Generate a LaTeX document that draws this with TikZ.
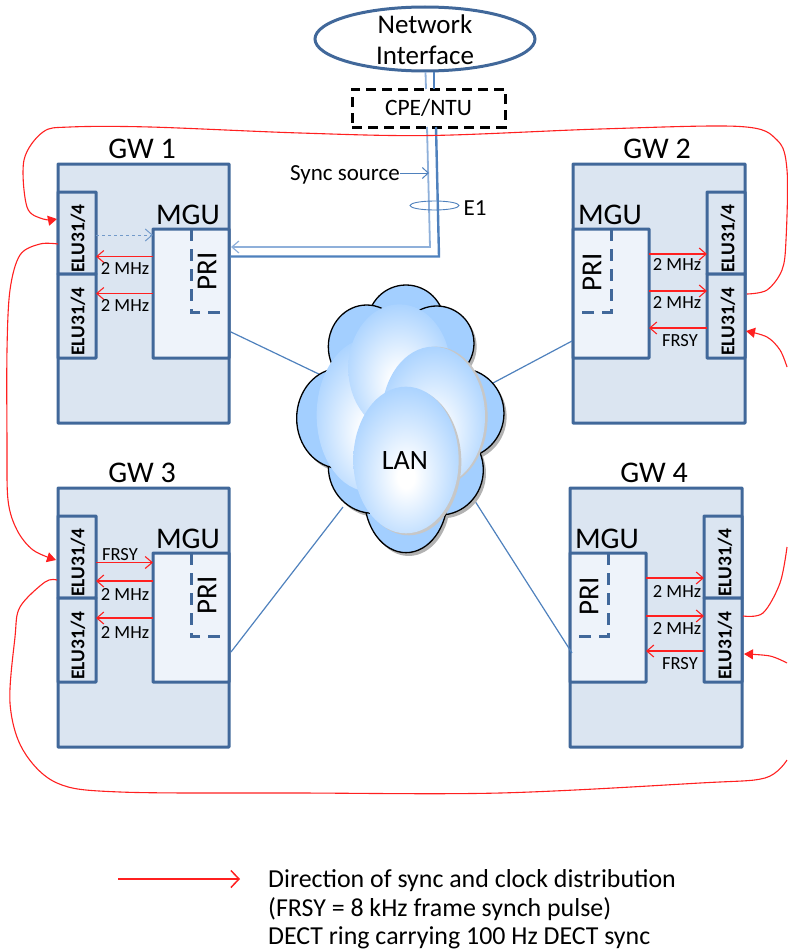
\documentclass[tikz,border=0pt]{standalone}
\usepackage{fontspec}
\setmainfont{Carlito}
\usetikzlibrary{arrows.meta,shapes.geometric}
\definecolor{boxline}{HTML}{41689A}
\definecolor{gwfill}{HTML}{DBE5F1}
\definecolor{mgufill}{HTML}{EEF3FA}
\definecolor{lightln}{HTML}{8FB0DA}
\definecolor{midln}{HTML}{4F81BD}
\definecolor{ringred}{HTML}{FF2020}
\definecolor{lanblue}{HTML}{A3CFFF}
\pgfdeclareradialshading{lanshade}{\pgfpoint{0bp}{-6bp}}{color(0bp)=(white); color(4bp)=(white); color(31bp)=(lanblue); color(70bp)=(lanblue)}
\tikzset{
  x=1pt,y=-1pt,
  gwbox/.style={draw=boxline,fill=gwfill,line width=3pt,anchor=north west,inner sep=0pt,outer sep=0pt,rounded corners=.5pt},
  mgubox/.style={gwbox,fill=mgufill},
  elubox/.style={gwbox},
  gwtitle/.style={font=\fontsize{30}{32}\selectfont,inner sep=0pt},
  mgutext/.style={font=\fontsize{30}{32}\selectfont,inner sep=0pt},
  elutext/.style={font=\fontsize{19.5}{22}\selectfont\bfseries,inner sep=0pt,rotate=90},
  pritext/.style={font=\fontsize{29}{32}\selectfont,inner sep=0pt,rotate=90},
  smalltext/.style={font=\fontsize{18.5}{22}\selectfont,inner sep=0pt},
  midtext/.style={font=\fontsize{23}{26}\selectfont,inner sep=0pt},
  pridash/.style={draw=boxline,line width=3pt,dash pattern=on 12pt off 8pt},
  redarr/.style={draw=ringred,line width=1.3pt,-{Straight Barb[length=7pt,width=12pt,line width=1.1pt]}},
  bluedash/.style={draw=midln!80,line width=1pt,dashed,-{Straight Barb[length=7pt,width=12pt,line width=1pt]}},
  ring/.style={draw=ringred,line width=1.1pt},
  ringarr/.style={ring,-{Triangle[length=9pt,width=10pt]}},
  lanlink/.style={draw=midln,line width=1.2pt},
  lobe/.style={draw=black,line width=1.3pt,fill=lanblue},
  inlobe/.style={shading=lanshade},
  lanshadow/.style={fill=black!30},
}
\newcommand{\hlink}[4]{\coordinate (tmpy) at (0,#3); \draw[#4] (#1 |- tmpy) -- (#2 |- tmpy);}
% left-hand gateway: id, x, y
\newcommand{\gwleft}[3]{%
\begin{scope}[shift={(#2,#3)}]
  \node[gwbox,minimum width=171pt,minimum height=259pt] (gw#1) at (0,0) {};
  \node[gwtitle] (gw#1t) at (84,-15) {GW #1};
  \node[elubox,minimum width=38pt,minimum height=82pt] (elu#1a) at (0,28) {};
  \node[elubox,minimum width=38pt,minimum height=84pt] (elu#1b) at (0,110) {};
  \node[elutext] (elu#1at) at (20,74.5) {ELU31/4};
  \node[elutext] (elu#1bt) at (20,157.5) {ELU31/4};
  \node[mgubox,minimum width=76pt,minimum height=129pt] (mgu#1) at (95,65) {};
  \draw[pridash] (133,65) -- (133,148) -- (171,148);
  \node[mgutext] (mgu#1t) at (130,51) {MGU};
  \node[pritext] (pri#1t) at (149,107) {PRI};
\end{scope}}
% right-hand gateway: id, x, y
\newcommand{\gwright}[3]{%
\begin{scope}[shift={(#2,#3)}]
  \node[gwbox,minimum width=172pt,minimum height=259pt] (gw#1) at (0,0) {};
  \node[gwtitle] (gw#1t) at (84,-15) {GW #1};
  \node[elubox,minimum width=38pt,minimum height=82pt] (elu#1a) at (134,28) {};
  \node[elubox,minimum width=38pt,minimum height=84pt] (elu#1b) at (134,110) {};
  \node[elutext] (elu#1at) at (155,74.5) {ELU31/4};
  \node[elutext] (elu#1bt) at (155,157.5) {ELU31/4};
  \node[mgubox,minimum width=76pt,minimum height=129pt] (mgu#1) at (0,65) {};
  \draw[pridash] (38,65) -- (38,148) -- (0,148);
  \node[mgutext] (mgu#1t) at (37,51) {MGU};
  \node[pritext] (pri#1t) at (19,108) {PRI};
\end{scope}}
\begin{document}
\begin{tikzpicture}
\useasboundingbox (0,0) rectangle (787,950);
% ---------- gateways
\gwleft{1}{58}{164}
\gwright{2}{573}{164}
\gwleft{3}{58}{488}
\gwright{4}{570}{488}
% ---------- LAN links (under the cloud)
\coordinate (lanA) at (325,377);
\coordinate (lanB) at (493,383);
\coordinate (lanC) at (343,507);
\coordinate (lanD) at (473,498);
\coordinate (g1l) at (231,332);
\coordinate (g2l) at (572,341);
\coordinate (g3l) at (231,652);
\coordinate (g4l) at (572,653);
\draw[lanlink] (g1l) -- (lanA);
\draw[lanlink] (g2l) -- (lanB);
\draw[lanlink] (g3l) -- (lanC);
\draw[lanlink] (g4l) -- (lanD);
% ---------- LAN cloud: zoomed coordinates are (px-280)*3
\begin{scope}[shift={(280,280)},x=.3333pt,y=-.3333pt]
  \begin{scope}[shift={(8,10)}]
    \foreach \cx/\cy/\rx/\ry in {378/130/115/115,470/190/112/112,540/400/132/135,480/570/130/135,378/650/125/168,280/560/135/140,180/415/130/150,260/200/115/125}
      \fill[lanshadow] (\cx,\cy) ellipse [x radius=\rx,y radius=\ry];
  \end{scope}
  \foreach \cx/\cy/\rx/\ry in {378/130/115/115,470/190/112/112,540/400/132/135,480/570/130/135,378/650/125/168,280/560/135/140,180/415/130/150,260/200/115/125}
    \path[lobe] (\cx,\cy) ellipse [x radius=\rx,y radius=\ry];
  \path[inlobe] (270,405) ellipse [x radius=160,y radius=230];
  \path[inlobe] (358,265) ellipse [x radius=153,y radius=192];
  \fill[black!22] (468,410) ellipse [x radius=155,y radius=210];
  \path[inlobe] (460,410) ellipse [x radius=155,y radius=210];
  \fill[black!22] (386,546) ellipse [x radius=158,y radius=220];
  \path[inlobe] (378,540) ellipse [x radius=158,y radius=220];
\end{scope}
\node[font=\fontsize{28}{30}\selectfont,inner sep=0pt] (lan) at (405,461) {LAN};
% ---------- network interface and CPE
\node[draw=boxline,fill=white,line width=3pt,ellipse,minimum width=220pt,minimum height=64pt,inner sep=0pt,outer sep=0pt] (net) at (425,39) {};
\node[inner sep=0pt,font=\fontsize{27}{31}\selectfont,align=center] (nett) at (425,39.5) {Network\\Interface};
\node[draw=black,line width=3pt,dash pattern=on 10pt off 6pt,minimum width=153pt,minimum height=38pt,inner sep=0pt,outer sep=0pt,font=\fontsize{23.5}{26}\selectfont] (cpe) at (428.5,108) {CPE/NTU};
% ---------- E1 links
\coordinate (lt1) at (425.5,72);
\coordinate (lt2) at (426,89);
\coordinate (lt3) at (427,127);
\coordinate (lt4) at (430,247);
\coordinate (dk1) at (434,72);
\coordinate (dk2) at (434,89);
\coordinate (dk3) at (436,127);
\coordinate (dk4) at (439,256.5);
\coordinate (m1a) at (231,247);
\coordinate (m1b) at (230,256.5);
\draw[draw=lightln,line width=1.8pt] (lt1) -- (lt2);
\draw[draw=midln,line width=2.4pt] (dk1) -- (dk2);
\draw[draw=lightln,line width=1.8pt,-{Straight Barb[length=7pt,width=12pt,line width=1.2pt]}] (lt3) -- (lt4) -- (m1a);
\draw[draw=midln,line width=2.4pt] (dk3) -- (dk4) -- (m1b);
% ---------- sync source, E1
\node[midtext] (sync) at (345,175) {Sync source};
\coordinate (synce) at (429,173);
\hlink{sync.east}{synce}{173}{draw=midln,line width=1pt,-{Straight Barb[length=6pt,width=11pt,line width=1pt]}}
\node[draw=midln,line width=.9pt,ellipse,minimum width=49pt,minimum height=9pt,inner sep=0pt] (e1ring) at (434.5,205.5) {};
\node[midtext] (e1) at (475,208) {E1};
% ---------- arrows inside gateways
\hlink{elu1a.east}{mgu1.west}{235}{bluedash}
\hlink{mgu1.west}{elu1a.east}{256.5}{redarr}
\hlink{mgu1.west}{elu1b.east}{293.5}{redarr}
\node[smalltext] (t1a) at (125,268) {2 MHz};
\node[smalltext] (t1b) at (125,305) {2 MHz};
\hlink{mgu2.east}{elu2a.west}{254}{redarr}
\hlink{mgu2.east}{elu2b.west}{291}{redarr}
\hlink{elu2b.west}{mgu2.east}{328}{redarr}
\node[smalltext] (t2a) at (677,264) {2 MHz};
\node[smalltext] (t2b) at (677,302) {2 MHz};
\node[smalltext] (t2c) at (680,341) {FRSY};
\hlink{elu3a.east}{mgu3.west}{562.5}{redarr}
\hlink{mgu3.west}{elu3a.east}{581}{redarr}
\hlink{mgu3.west}{elu3b.east}{618}{redarr}
\node[smalltext] (t3c) at (120,555) {FRSY};
\node[smalltext] (t3a) at (125,594) {2 MHz};
\node[smalltext] (t3b) at (125,632) {2 MHz};
\hlink{mgu4.east}{elu4a.west}{578}{redarr}
\hlink{mgu4.east}{elu4b.west}{616}{redarr}
\hlink{elu4b.west}{mgu4.east}{651}{redarr}
\node[smalltext] (t4a) at (677,591) {2 MHz};
\node[smalltext] (t4b) at (677,628) {2 MHz};
\node[smalltext] (t4c) at (680,664) {FRSY};
% ---------- DECT ring
\coordinate (r2out) at (747,294);
\coordinate (r1in) at (57,219);
\coordinate (r1out) at (58,244);
\coordinate (r3in) at (56,560);
\coordinate (r3out) at (57,580);
\coordinate (r2in) at (746,331);
\coordinate (r4out) at (743,616);
\coordinate (r4in) at (744,654);
\draw[ringarr] plot[smooth,tension=.55] coordinates {(r2out) (767,290) (782,270) (786,240) (787,170) (777,140) (740,126.5) (600,129) (430,135.5) (300,133) (150,127) (70,127) (43,132) (24,160) (27,207) (43,219) (r1in)};
\draw[ringarr] plot[smooth,tension=.55] coordinates {(r1out) (40,244) (20,255) (10,290) (7,350) (7,440) (8,500) (17,530) (33,550) (r3in)};
\draw[ring] plot[smooth,tension=.55] coordinates {(r3out) (45,582) (20,607) (15,637) (10,703) (23,750) (57,783) (120,792) (300,793) (500,793) (700,783) (765,778) (787,760)};
\coordinate (offA) at (787,367);
\coordinate (offB) at (787,663);
\coordinate (offC) at (787,547);
\draw[ringarr] plot[smooth,tension=.55] coordinates {(offA) (780,350) (767,337) (r2in)};
\draw[ringarr] plot[smooth,tension=.55] coordinates {(offB) (770,656) (r4in)};
\draw[ring] plot[smooth,tension=.55] coordinates {(r4out) (763,613) (780,583) (offC)};
% ---------- legend
\coordinate (lega) at (118,879);
\coordinate (legb) at (240,879);
\draw[draw=ringred,line width=1.5pt,-{Straight Barb[length=8pt,width=17pt,line width=1.5pt]}] (lega) -- (legb);
\node[anchor=west,inner sep=0pt,font=\fontsize{25.9}{28}\selectfont] (l1) at (268,881) {Direction of sync and clock distribution};
\node[anchor=west,inner sep=0pt,font=\fontsize{25.9}{28}\selectfont] (l2) at (268,909) {(FRSY = 8 kHz frame synch pulse)};
\node[anchor=west,inner sep=0pt,font=\fontsize{25.9}{28}\selectfont] (l3) at (268,938) {DECT ring carrying 100 Hz DECT sync};
\end{tikzpicture}
\end{document}
